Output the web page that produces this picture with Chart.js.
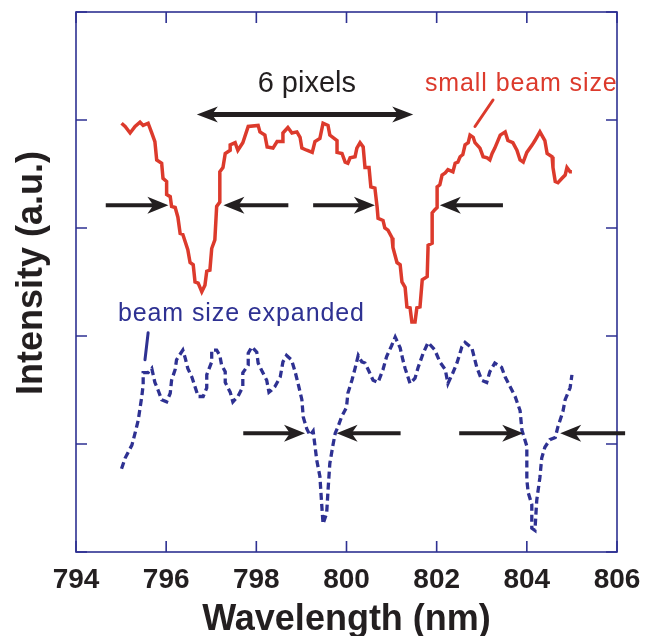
<!DOCTYPE html>
<html>
<head>
<meta charset="utf-8">
<script src="https://cdn.jsdelivr.net/npm/chart.js@4/dist/chart.umd.min.js"></script>
<style>
  html, body { margin: 0; padding: 0; background: #ffffff; }
  #wrap { width: 646px; height: 636px; }
</style>
</head>
<body>
<div id="wrap"><canvas id="spectrum" width="646" height="636"></canvas></div>
<script>
// Spectrum with a small beam (solid red) and with the beam expanded (dashed blue)
const redWavelength = [
  795.01,795.09,795.20,795.31,795.42,795.49,795.60,795.68,795.75,795.79,
  795.90,795.93,796.01,796.01,796.09,796.12,796.20,796.26,796.31,796.37,
  796.48,796.53,796.60,796.64,796.71,796.79,796.86,796.90,796.97,797.01,
  797.08,797.12,797.19,797.19,797.26,797.31,797.42,797.42,797.53,797.59,
  797.70,797.82,798.04,798.08,798.19,798.24,798.37,798.46,798.57,798.59,
  798.70,798.79,798.90,798.97,799.01,799.12,799.24,799.30,799.41,799.48,
  799.59,799.63,799.79,799.79,799.90,799.97,800.03,800.08,800.19,800.23,
  800.30,800.37,800.41,800.50,800.54,800.63,800.68,800.70,800.81,800.85,
  800.92,801.01,801.03,801.12,801.19,801.23,801.30,801.34,801.41,801.45,
  801.52,801.56,801.63,801.68,801.79,801.81,801.90,801.90,801.96,802.01,
  802.01,802.07,802.12,802.19,802.25,802.36,802.41,802.47,802.52,802.58,
  802.63,802.70,802.74,802.81,802.85,802.96,803.03,803.12,803.18,803.23,
  803.29,803.41,803.52,803.58,803.69,803.78,803.85,803.92,804.00,804.12,
  804.18,804.29,804.40,804.45,804.56,804.58,804.63,804.69,804.78,804.85,
  804.89,804.96,805.00
];
const redIntensity = [
  3.97,3.94,3.88,3.94,3.98,3.95,3.97,3.88,3.80,3.63,
  3.60,3.46,3.43,3.31,3.29,3.20,3.19,3.10,2.95,2.94,
  2.80,2.68,2.66,2.50,2.49,2.41,2.47,2.60,2.61,2.81,
  2.89,3.20,3.24,3.52,3.56,3.69,3.72,3.77,3.79,3.72,
  3.79,3.94,3.95,3.89,3.86,3.75,3.74,3.80,3.80,3.88,
  3.93,3.88,3.89,3.84,3.74,3.72,3.70,3.80,3.83,3.97,
  3.95,3.86,3.81,3.70,3.69,3.61,3.60,3.65,3.66,3.74,
  3.79,3.75,3.56,3.56,3.38,3.37,3.19,3.09,3.07,3.00,
  2.98,2.91,2.82,2.68,2.66,2.50,2.45,2.27,2.26,2.13,
  2.13,2.26,2.27,2.52,2.55,2.84,2.86,3.14,3.17,3.19,
  3.38,3.40,3.49,3.51,3.54,3.52,3.60,3.61,3.66,3.68,
  3.77,3.79,3.86,3.84,3.79,3.74,3.66,3.65,3.63,3.69,
  3.74,3.86,3.89,3.81,3.79,3.72,3.63,3.61,3.70,3.77,
  3.81,3.89,3.81,3.69,3.66,3.56,3.43,3.42,3.46,3.49,
  3.56,3.52,3.52
];
const blueWavelength = [
  795.01,795.09,795.24,795.31,795.38,795.46,795.49,795.49,795.60,795.68,
  795.75,795.82,795.90,796.01,796.09,796.12,796.20,796.23,796.37,796.42,
  796.48,796.57,796.64,796.71,796.82,796.90,796.90,797.01,797.01,797.12,
  797.19,797.23,797.31,797.31,797.42,797.48,797.59,797.70,797.70,797.82,
  797.82,797.90,798.01,798.04,798.12,798.23,798.28,798.34,798.41,798.53,
  798.59,798.67,798.78,798.86,798.92,799.01,799.04,799.12,799.19,799.26,
  799.34,799.41,799.45,799.48,799.56,799.59,799.63,799.70,799.75,799.81,
  799.89,800.00,800.03,800.12,800.19,800.26,800.34,800.41,800.48,800.59,
  800.70,800.81,800.89,801.00,801.08,801.19,801.25,801.30,801.41,801.52,
  801.59,801.70,801.81,801.96,802.07,802.19,802.25,802.36,802.45,802.56,
  802.63,802.78,802.89,803.00,803.11,803.18,803.29,803.44,803.52,803.63,
  803.74,803.85,803.89,804.00,804.00,804.03,804.11,804.11,804.18,804.22,
  804.29,804.33,804.40,804.51,804.63,804.69,804.80,804.85,804.96,805.00
];
const blueIntensity = [
  0.77,0.87,0.99,1.10,1.22,1.44,1.55,1.66,1.66,1.70,
  1.57,1.50,1.41,1.39,1.47,1.59,1.69,1.78,1.87,1.80,
  1.70,1.62,1.53,1.44,1.44,1.52,1.64,1.76,1.87,1.87,
  1.82,1.73,1.67,1.57,1.48,1.39,1.44,1.53,1.66,1.73,
  1.84,1.90,1.85,1.75,1.68,1.59,1.48,1.50,1.53,1.62,
  1.76,1.82,1.78,1.67,1.57,1.41,1.25,1.14,1.08,1.12,
  0.85,0.70,0.44,0.26,0.36,0.57,0.82,0.99,1.10,1.16,
  1.25,1.34,1.47,1.59,1.70,1.82,1.76,1.75,1.69,1.59,
  1.57,1.69,1.81,1.91,1.99,1.89,1.78,1.70,1.56,1.61,
  1.71,1.84,1.94,1.87,1.76,1.69,1.56,1.66,1.75,1.90,
  1.94,1.89,1.71,1.59,1.57,1.67,1.75,1.71,1.62,1.53,
  1.44,1.31,1.13,0.98,0.67,0.55,0.44,0.22,0.20,0.48,
  0.69,0.87,0.97,1.04,1.06,1.16,1.30,1.41,1.52,1.64
];
const wavelengthTicks = [794, 796, 798, 800, 802, 804, 806];

// Half-width markers: [start, arrow tip, level] in axis units
const widthMarkers = [
  [794.66, 796.05, 3.21], [798.71, 797.27, 3.21],
  [799.26, 800.63, 3.21], [803.47, 802.07, 3.21],
  [797.71, 799.08, 1.10], [801.20, 799.78, 1.10],
  [802.50, 803.92, 1.10], [806.18, 804.74, 1.10]
];
// Dip spacing marker: [left tip, right tip, level]
const spacingMarker = [796.68, 801.48, 4.05];

const RED = '#dc3a2c';
const BLUE = '#2e3192';
const INK = '#231f20';
const FONT = "'Liberation Sans', Arial, Helvetica, sans-serif";

const toPoints = (xs, ys) => xs.map((x, i) => ({ x, y: ys[i] }));

function arrowHead(ctx, tipX, y, dir, len, half) {
  ctx.beginPath();
  ctx.moveTo(tipX, y);
  ctx.lineTo(tipX - dir * len, y - half);
  ctx.lineTo(tipX - dir * len * 0.72, y);
  ctx.lineTo(tipX - dir * len, y + half);
  ctx.closePath();
  ctx.fill();
}

function drawText(ctx, text, x, y, size, color, align, spacing) {
  ctx.save();
  ctx.font = size + 'px ' + FONT;
  ctx.fillStyle = color;
  ctx.textAlign = align;
  ctx.textBaseline = 'alphabetic';
  if ('letterSpacing' in ctx) ctx.letterSpacing = spacing + 'px';
  ctx.fillText(text, x, y);
  ctx.restore();
}

const frameAndNotes = {
  id: 'frameAndNotes',
  beforeDatasetsDraw(chart) {
    const { ctx, chartArea: a, scales: { x, y } } = chart;
    ctx.save();
    ctx.strokeStyle = BLUE;
    ctx.lineWidth = 1.6;
    ctx.strokeRect(a.left, a.top, a.right - a.left, a.bottom - a.top);
    const t = 11;
    ctx.beginPath();
    x.ticks.forEach(tk => {
      const px = x.getPixelForValue(tk.value);
      ctx.moveTo(px, a.bottom); ctx.lineTo(px, a.bottom - t);
      ctx.moveTo(px, a.top); ctx.lineTo(px, a.top + t);
    });
    y.ticks.forEach(tk => {
      const py = y.getPixelForValue(tk.value);
      ctx.moveTo(a.left, py); ctx.lineTo(a.left + t, py);
      ctx.moveTo(a.right, py); ctx.lineTo(a.right - t, py);
    });
    ctx.stroke();

    // vertical axis title, set a little above the middle of the frame
    ctx.save();
    ctx.translate(32, (a.top + a.bottom) / 2 - 9);
    ctx.rotate(-Math.PI / 2);
    ctx.font = 'bold 36px ' + FONT;
    ctx.fillStyle = INK;
    ctx.textAlign = 'center';
    ctx.textBaseline = 'middle';
    ctx.fillText('Intensity (a.u.)', 0, 0);
    ctx.restore();
    ctx.restore();
  },
  afterDatasetsDraw(chart) {
    const { ctx, scales: { x, y } } = chart;
    ctx.save();
    ctx.strokeStyle = INK;
    ctx.fillStyle = INK;
    ctx.lineCap = 'butt';

    // half-width arrows
    ctx.lineWidth = 4;
    widthMarkers.forEach(([from, to, lvl]) => {
      const x1 = x.getPixelForValue(from), x2 = x.getPixelForValue(to);
      const py = y.getPixelForValue(lvl);
      const dir = Math.sign(x2 - x1);
      ctx.beginPath();
      ctx.moveTo(x1, py);
      ctx.lineTo(x2 - dir * 12, py);
      ctx.stroke();
      arrowHead(ctx, x2, py, dir, 21, 8.5);
    });

    // double-headed spacing arrow
    const [sL, sR, sLvl] = spacingMarker;
    const xl = x.getPixelForValue(sL), xr = x.getPixelForValue(sR);
    const sy = y.getPixelForValue(sLvl);
    ctx.lineWidth = 5;
    ctx.beginPath();
    ctx.moveTo(xl + 12, sy);
    ctx.lineTo(xr - 12, sy);
    ctx.stroke();
    arrowHead(ctx, xl, sy, -1, 21, 8);
    arrowHead(ctx, xr, sy, 1, 21, 8);

    // labels
    drawText(ctx, '6 pixels', x.getPixelForValue(799.12), y.getPixelForValue(4.26), 29, INK, 'center', 0);
    drawText(ctx, 'small beam size', x.getPixelForValue(801.74), y.getPixelForValue(4.27), 25, RED, 'left', 0.9);
    drawText(ctx, 'beam size expanded', x.getPixelForValue(794.93), y.getPixelForValue(2.14), 25, BLUE, 'left', 0.9);

    // leader lines from labels to curves
    ctx.lineWidth = 3;
    ctx.lineCap = 'round';
    ctx.strokeStyle = RED;
    ctx.beginPath();
    ctx.moveTo(x.getPixelForValue(803.25), y.getPixelForValue(4.185));
    ctx.lineTo(x.getPixelForValue(802.85), y.getPixelForValue(3.94));
    ctx.stroke();
    ctx.strokeStyle = BLUE;
    ctx.beginPath();
    ctx.moveTo(x.getPixelForValue(795.60), y.getPixelForValue(2.03));
    ctx.lineTo(x.getPixelForValue(795.53), y.getPixelForValue(1.78));
    ctx.stroke();
    ctx.restore();
  }
};

new Chart(document.getElementById('spectrum'), {
  type: 'line',
  data: {
    datasets: [
      {
        label: 'small beam size',
        data: toPoints(redWavelength, redIntensity),
        borderColor: RED,
        borderWidth: 3.5,
        borderJoinStyle: 'miter',
        pointRadius: 0,
        tension: 0,
        fill: false
      },
      {
        label: 'beam size expanded',
        data: toPoints(blueWavelength, blueIntensity),
        borderColor: BLUE,
        borderWidth: 3.3,
        borderDash: [7, 4],
        borderCapStyle: 'butt',
        pointRadius: 0,
        tension: 0,
        fill: false
      }
    ]
  },
  options: {
    responsive: false,
    animation: false,
    devicePixelRatio: 1,
    layout: { padding: { left: 0, right: 29, top: 12, bottom: 0 } },
    plugins: { legend: { display: false }, tooltip: { enabled: false } },
    scales: {
      x: {
        type: 'linear',
        min: 794,
        max: 806,
        afterBuildTicks: s => { s.ticks = wavelengthTicks.map(v => ({ value: v })); },
        afterFit: s => { s.height = 84; s.paddingLeft = 0; s.paddingRight = 0; },
        grid: { display: false, drawTicks: false },
        border: { display: false },
        ticks: {
          autoSkip: false,
          maxRotation: 0,
          padding: 11,
          color: INK,
          font: { family: FONT, size: 28, weight: 'bold' }
        },
        title: {
          display: true,
          text: 'Wavelength (nm)',
          color: INK,
          padding: { top: 0, bottom: -2 },
          font: { family: FONT, size: 36, weight: 'bold', lineHeight: 1 }
        }
      },
      y: {
        min: 0,
        max: 5,
        afterFit: s => { s.width = 76; s.paddingTop = 0; s.paddingBottom = 0; },
        grid: { display: false, drawTicks: false },
        border: { display: false },
        ticks: { stepSize: 1, display: false },
        title: { display: false }
      }
    }
  },
  plugins: [frameAndNotes]
});
</script>
</body>
</html>
